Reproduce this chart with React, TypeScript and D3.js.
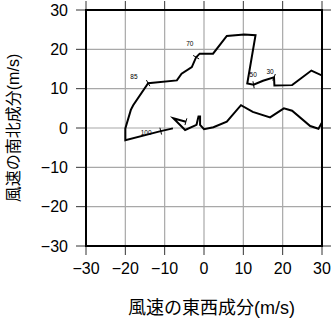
import React from "react";
import * as d3 from "d3";

// Hodograph data (u: east-west, v: north-south wind components, m/s)
const uWind = [-7.9, -11.0, -20.0, -20.0, -18.6, -18.0, -14.2, -6.9, -5.7, -3.1, -2.0, -1.1, 2.3, 5.8, 10.2, 13.1, 11.0, 12.6, 15.0, 17.8, 17.9, 22.4, 27.3, 30.1, 33.0, 33.0, 30.0, 29.1, 27.0, 22.4, 20.3, 16.8, 12.4, 9.4, 5.8, 2.4, 0.0, -1.0, -1.0, -1.4, -1.9, -4.8, -7.8, -4.6];
const vWind = [-0.1, -0.8, -3.1, -0.1, 4.6, 5.8, 11.4, 12.1, 13.8, 15.5, 18.0, 18.9, 18.9, 23.4, 23.8, 23.6, 11.3, 11.0, 12.0, 12.9, 10.8, 10.9, 14.6, 13.3, 11.5, 3.0, 1.4, -0.2, 0.5, 4.4, 5.0, 2.7, 4.1, 5.8, 1.6, 0.2, -0.3, 0.8, 2.9, 2.9, 0.8, -0.5, 2.5, 1.6];

// Level markers along the hodograph (index into the arrays) with labels and label anchor (data units)
const levelIndex = [1, 6, 10, 17, 19, 43];
const levelLabels = ["100", "85", "70", "50", "30", ""];
const labelU = [-14.7, -17.8, -3.6, 12.5, 16.8, 0];
const labelV = [-1.2, 13.2, 21.4, 13.7, 14.3, 0];

const ticks = [-30, -20, -10, 0, 10, 20, 30];
const tickText = (d: number) => (d < 0 ? "\u2212" + Math.abs(d) : String(d));

const W = 332;
const H = 319;
const L = 86, R = 322, T = 10, B = 246;

export default function App() {
  const x = d3.scaleLinear().domain([-30, 30]).range([L, R]);
  const y = d3.scaleLinear().domain([-30, 30]).range([B, T]);
  const pts = uWind.map((u, i) => [u, vWind[i]] as [number, number]);
  const line = d3.line<[number, number]>().x((d) => x(d[0])).y((d) => y(d[1]));

  const levelMarks = levelIndex.map((idx, k) => {
    const p = pts[idx];
    const a = pts[Math.max(0, idx - 1)];
    const b = pts[Math.min(pts.length - 1, idx + 1)];
    const dx = x(b[0]) - x(a[0]);
    const dy = y(b[1]) - y(a[1]);
    const len = Math.hypot(dx, dy) || 1;
    const nx = -dy / len, ny = dx / len;
    const cx = x(p[0]), cy = y(p[1]);
    return { cx, cy, nx, ny, k };
  });

  const tickColor = "#333";
  const font = "'Liberation Sans', Arial, 'Noto Sans CJK JP', sans-serif";

  return (
    <svg width={W} height={H} style={{ position: "absolute", left: 0, top: 0, background: "#fff" }}>
      <defs>
        <clipPath id="plotClip">
          <rect x={L} y={T} width={R - L} height={B - T} />
        </clipPath>
      </defs>
      <rect x={0} y={0} width={W} height={H} fill="#fff" />
      {/* grid */}
      {ticks.slice(1, -1).map((t) => (
        <g key={"g" + t}>
          <line x1={x(t)} x2={x(t)} y1={T} y2={B} stroke="#a8a8a8" strokeWidth={1.2} />
          <line x1={L} x2={R} y1={y(t)} y2={y(t)} stroke="#a8a8a8" strokeWidth={1.2} />
        </g>
      ))}
      {/* ticks on all sides */}
      {ticks.map((t) => (
        <g key={"t" + t} stroke={tickColor} strokeWidth={1}>
          <line x1={x(t)} x2={x(t)} y1={B} y2={B + 9} />
          <line x1={x(t)} x2={x(t)} y1={T} y2={T - 9} />
          <line x1={L - 10} x2={L} y1={y(t)} y2={y(t)} />
          <line x1={R} x2={R + 9} y1={y(t)} y2={y(t)} />
        </g>
      ))}
      {/* hodograph */}
      <g clipPath="url(#plotClip)">
        <path d={line(pts) || ""} fill="none" stroke="#000" strokeWidth={2} strokeLinejoin="miter" />
        {levelMarks.map((m) => (
          <line key={"lm" + m.k} x1={m.cx - m.nx * 3.5} y1={m.cy - m.ny * 3.5} x2={m.cx + m.nx * 3.5} y2={m.cy + m.ny * 3.5} stroke="#000" strokeWidth={1} />
        ))}
      </g>
      {levelLabels.map((lab, k) =>
        lab ? (
          <text key={"ll" + k} x={x(labelU[k])} y={y(labelV[k])} fontSize={6.5} fontFamily={font} textAnchor="middle" dominantBaseline="central" fill="#000">
            {lab}
          </text>
        ) : null
      )}
      {/* frame */}
      <rect x={L} y={T} width={R - L} height={B - T} fill="none" stroke="#000" strokeWidth={2} />
      {/* tick labels */}
      {ticks.map((t) => (
        <text key={"xl" + t} x={x(t)} y={y(-30) + 28} fontSize={16} fontFamily={font} textAnchor="middle" fill="#000">
          {tickText(t)}
        </text>
      ))}
      {ticks.map((t) => (
        <text key={"yl" + t} x={68} y={y(t)} fontSize={16} fontFamily={font} textAnchor="end" dominantBaseline="central" fill="#000">
          {tickText(t)}
        </text>
      ))}
      {/* axis titles */}
      <text x={128} y={314} fontSize={18} fontFamily={font} fill="#000">
        <tspan fontFamily="'Noto Sans CJK JP', sans-serif">風速の東西成分</tspan>
        <tspan>(m/s)</tspan>
      </text>
      <text transform={`translate(18.5,${(T + B) / 2}) rotate(-90)`} fontSize={16} fontFamily={font} textAnchor="middle" fill="#000">
        <tspan fontFamily="'Noto Sans CJK JP', sans-serif">風速の南北成分</tspan>
        <tspan>(m/s)</tspan>
      </text>
    </svg>
  );
}
